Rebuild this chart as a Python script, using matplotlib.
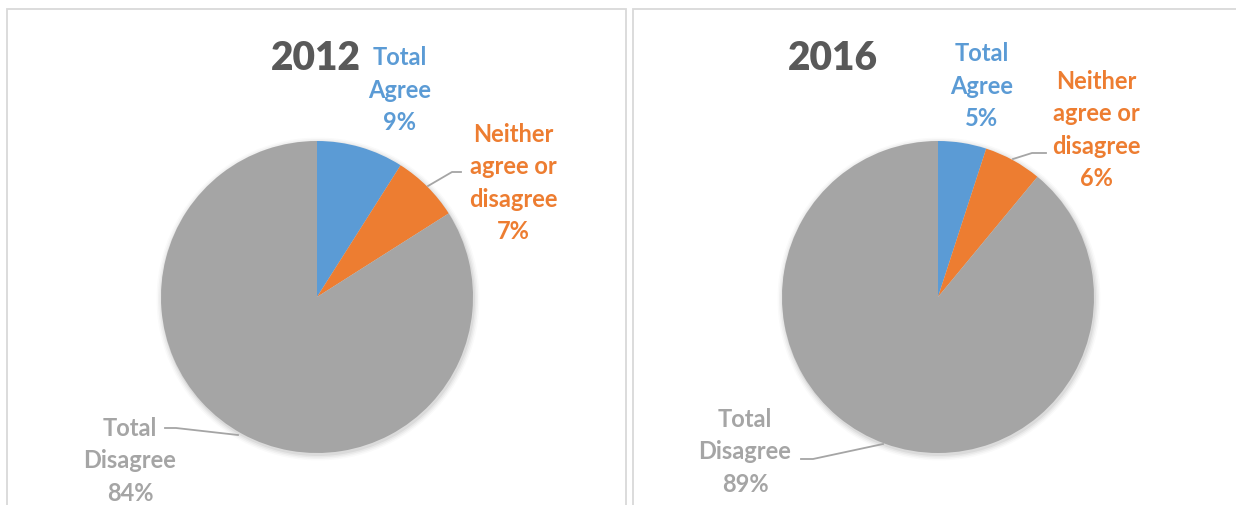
import matplotlib.pyplot as plt
from matplotlib.patches import Rectangle

# Survey answers, share of respondents (%)
categories = ['Total\nAgree', 'Neither\nagree or\ndisagree', 'Total\nDisagree']
years = ['2012', '2016']
values_2012 = [9, 7, 84]
values_2016 = [5, 6, 89]
colors = ['#5B9BD5', '#ED7D31', '#A5A5A5']

plt.rcParams['font.family'] = ['Lato', 'DejaVu Sans']

W, H = 1236, 506
fig = plt.figure(figsize=(W / 100, H / 100), dpi=100)
ax = fig.add_axes([0, 0, 1, 1])


def ypx(y):
    # pixel rows are counted from the top
    return H - y


# panel frames
for x0, x1 in [(7, 626), (633, 1300)]:
    ax.add_patch(Rectangle((x0, ypx(600)), x1 - x0, 590, fill=False,
                           edgecolor='#D9D9D9', lw=1.3))

panels = [
    dict(vals=values_2012, year=years[0], cx=317, title=(316, 58),
         lab=[(400, 90), (513, 183), (130, 461)],
         lines=[None,
                [(428, 187), (452, 173), (461, 173)],
                [(238, 436), (176, 429), (165, 429)]]),
    dict(vals=values_2016, year=years[1], cx=938, title=(833, 58),
         lab=[(982, 86), (1096, 130), (745, 452)],
         lines=[None,
                [(1013, 160), (1032, 154), (1046, 154)],
                [(883, 445), (813, 460), (801, 460)]]),
]

R = 156
for p in panels:
    c = (p['cx'], ypx(298))
    # soft shadow under the pie
    for i, a in enumerate([0.05, 0.04, 0.03, 0.02]):
        ax.add_patch(plt.Circle((c[0] + 1, c[1] - 2), R + 1 + i * 1.5,
                                color='black', alpha=a, lw=0, zorder=1))
    ax.pie(p['vals'], colors=colors, startangle=90, counterclock=False,
           radius=R, center=c, frame=True,
           wedgeprops=dict(linewidth=0, zorder=2))
    ax.text(p['title'][0], ypx(p['title'][1]), p['year'], ha='center',
            va='center', fontsize=28, fontweight='heavy', color='#595959')
    for cat, v, col, (lx, ly), ln in zip(categories, p['vals'], colors,
                                         p['lab'], p['lines']):
        ax.text(lx, ypx(ly), f'{cat}\n{v}%', ha='center', va='center',
                fontsize=17, fontweight='bold', color=col, linespacing=1.48)
        if ln:
            xs, ys = zip(*ln)
            ax.plot(xs, [ypx(y) for y in ys], color='#A5A5A5', lw=1.3,
                    zorder=3)

ax.set_xlim(0, W)
ax.set_ylim(0, H)
ax.set_aspect('auto')
ax.axis('off')

plt.savefig('out.png', dpi=100)
